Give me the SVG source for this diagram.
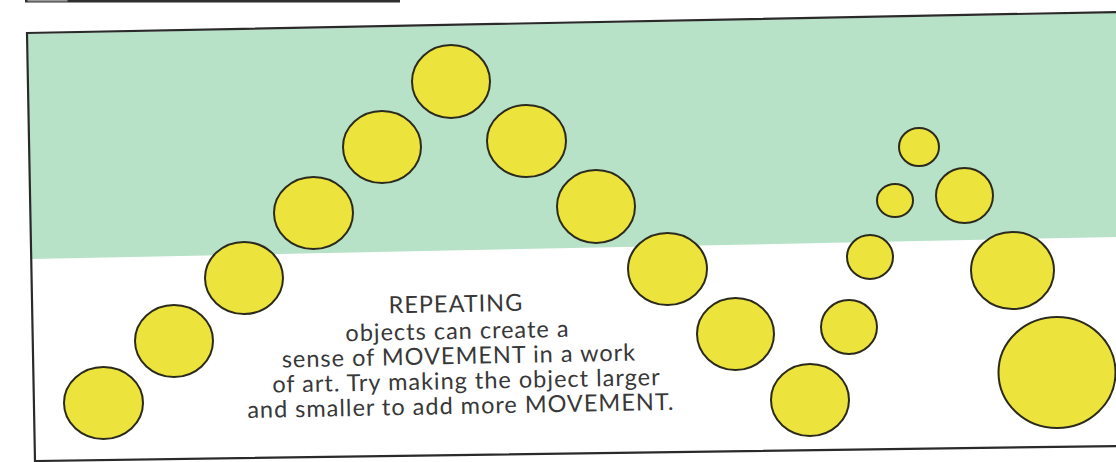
<svg xmlns="http://www.w3.org/2000/svg" width="1116" height="462" viewBox="0 0 1116 462">
<style>
.dot{fill:#ece33d;stroke:#2b2a1c;stroke-width:2}
.txt{font-family:Lato,"Open Sans","Liberation Sans",sans-serif;font-size:23.5px;letter-spacing:1px;fill:#383838;text-anchor:middle}
</style>
<rect width="1116" height="462" fill="#ffffff"/>
<g id="top-strip">
<rect x="25" y="0" width="375" height="2.5" fill="#2f2f2f"/>
<rect x="27.5" y="0" width="40" height="1.5" fill="#9a9a9a"/>
</g>
<g id="band">
<polygon points="28,34 1116,13 1116,237 31,259" fill="#b8e2c8"/>
</g>
<g id="circles">
<g id="c1"><ellipse class="dot" cx="103.5" cy="403" rx="39.5" ry="36"/></g>
<g id="c2"><ellipse class="dot" cx="174" cy="341" rx="39" ry="36"/></g>
<g id="c3"><ellipse class="dot" cx="244" cy="278" rx="39" ry="36"/></g>
<g id="c4"><ellipse class="dot" cx="313.5" cy="213" rx="39.5" ry="36"/></g>
<g id="c5"><ellipse class="dot" cx="382" cy="147" rx="39" ry="36"/></g>
<g id="c6"><ellipse class="dot" cx="451" cy="81.5" rx="39" ry="36.5"/></g>
<g id="c7"><ellipse class="dot" cx="526.5" cy="141" rx="39.5" ry="36"/></g>
<g id="c8"><ellipse class="dot" cx="596" cy="206.5" rx="39" ry="36.5"/></g>
<g id="c9"><ellipse class="dot" cx="667.5" cy="269" rx="39.5" ry="36"/></g>
<g id="c10"><ellipse class="dot" cx="735.5" cy="334" rx="38.5" ry="36"/></g>
<g id="c11"><ellipse class="dot" cx="810" cy="400" rx="39" ry="36"/></g>
<g id="c12"><ellipse class="dot" cx="849" cy="327" rx="28" ry="27"/></g>
<g id="c13"><ellipse class="dot" cx="870" cy="257" rx="23" ry="22"/></g>
<g id="c14"><ellipse class="dot" cx="895" cy="200.5" rx="18" ry="16.5"/></g>
<g id="c15"><ellipse class="dot" cx="919" cy="147" rx="20" ry="19"/></g>
<g id="c16"><ellipse class="dot" cx="964.5" cy="195.5" rx="28.5" ry="27.5"/></g>
<g id="c17"><ellipse class="dot" cx="1012.5" cy="270.5" rx="41.5" ry="38.5"/></g>
<g id="c18"><ellipse class="dot" cx="1057" cy="372.5" rx="58.5" ry="55.5"/></g>
</g>
<g id="frame">
<polygon points="27,33 1120,12 1120,446 35,461" fill="none" stroke="#2a2a2a" stroke-width="2.2"/>
</g>
<g id="caption" transform="rotate(-1.1 458 360)">
<text class="txt" x="457" y="312">REPEATING</text>
<text class="txt" x="458" y="339">objects can create a</text>
<text class="txt" x="459" y="364">sense of MOVEMENT in a work</text>
<text class="txt" x="466" y="389">of art. Try making the object larger</text>
<text class="txt" x="460" y="414">and smaller to add more MOVEMENT.</text>
</g>
</svg>
